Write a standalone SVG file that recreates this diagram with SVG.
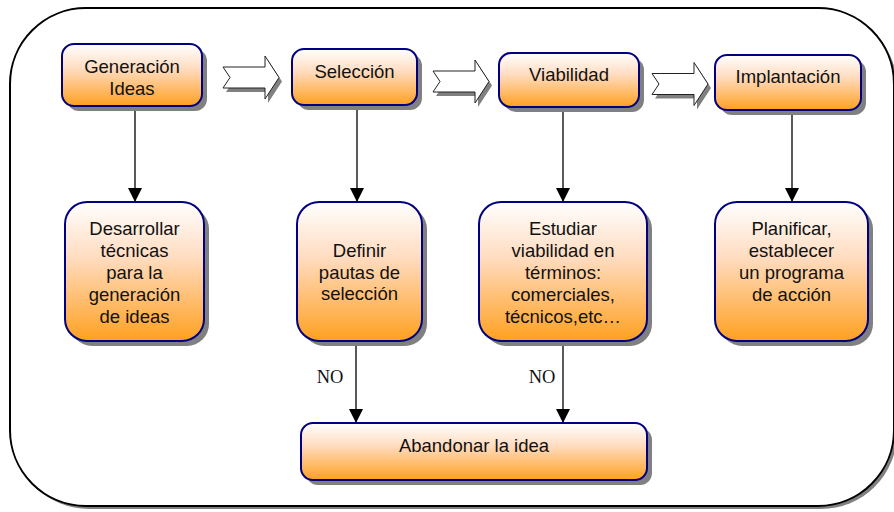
<svg xmlns="http://www.w3.org/2000/svg" width="894" height="512" viewBox="0 0 894 512">
<defs>
<linearGradient id="og" x1="0" y1="0" x2="0" y2="1">
<stop offset="0" stop-color="#ffffff"/>
<stop offset="0.4" stop-color="#ffdcc0"/>
<stop offset="1" stop-color="#ffa020"/>
</linearGradient>
<marker id="ah" markerWidth="14" markerHeight="14" viewBox="0 0 14 14" refX="14" refY="7" orient="auto" markerUnits="userSpaceOnUse">
<path d="M0,0 L14,7 L0,14 Z" fill="#000"/>
</marker>
<path id="blk" d="M0,-10.5 H42 V-21.5 L56,0 L42,21.5 V10.5 H0 L7,0 Z"/>
<style>
.sh{fill:#808080}
.box{fill:url(#og);stroke:#000080;stroke-width:2}
.t{font-family:"Liberation Sans",Arial,sans-serif;font-size:18.5px;fill:#111;text-anchor:middle}
.no{font-family:"Liberation Serif","Times New Roman",serif;font-size:18.5px;fill:#111;text-anchor:middle}
.c{stroke:#000;stroke-width:1.3;fill:none}
.ba{fill:#fff;stroke:#222;stroke-width:1}
</style>
</defs>
<rect width="894" height="512" fill="#fff"/>
<g id="frame">
<rect x="13" y="11" width="884" height="498" rx="76" ry="76" fill="#808080"/>
<rect x="10" y="8" width="884" height="498" rx="76" ry="76" fill="#fff" stroke="#000" stroke-width="2"/>
</g>
<g id="blockarrows">
<use href="#blk" x="226" y="81.5" class="sh"/>
<use href="#blk" x="223" y="77.5" class="ba"/>
<use href="#blk" x="436" y="85.5" class="sh"/>
<use href="#blk" x="433" y="81.5" class="ba"/>
<use href="#blk" x="655" y="88" class="sh"/>
<use href="#blk" x="652" y="84" class="ba"/>
</g>
<g id="connectors">
<line class="c" x1="135" y1="106" x2="135" y2="202" marker-end="url(#ah)"/>
<line class="c" x1="357" y1="106" x2="357" y2="202" marker-end="url(#ah)"/>
<line class="c" x1="563" y1="107" x2="563" y2="202" marker-end="url(#ah)"/>
<line class="c" x1="792" y1="110" x2="792" y2="202" marker-end="url(#ah)"/>
<line class="c" x1="356" y1="341" x2="356" y2="423" marker-end="url(#ah)"/>
<line class="c" x1="563" y1="341" x2="563" y2="423" marker-end="url(#ah)"/>
<text class="no" x="330" y="383">NO</text>
<text class="no" x="542" y="383">NO</text>
</g>
<g id="n-generacion">
<rect class="sh" x="67" y="49" width="140" height="62" rx="12"/>
<rect class="box" x="62" y="44" width="140" height="62" rx="12"/>
<text class="t" x="132" y="73">Generación</text>
<text class="t" x="132" y="95">Ideas</text>
</g>
<g id="n-seleccion">
<rect class="sh" x="297" y="54" width="125" height="56" rx="12"/>
<rect class="box" x="292" y="49" width="125" height="56" rx="12"/>
<text class="t" x="354.5" y="78">Selección</text>
</g>
<g id="n-viabilidad">
<rect class="sh" x="504" y="58" width="140" height="54" rx="12"/>
<rect class="box" x="499" y="53" width="140" height="54" rx="12"/>
<text class="t" x="569" y="81">Viabilidad</text>
</g>
<g id="n-implantacion">
<rect class="sh" x="720" y="60" width="146" height="55" rx="12"/>
<rect class="box" x="715" y="55" width="146" height="55" rx="12"/>
<text class="t" x="788" y="83">Implantación</text>
</g>
<g id="n-desarrollar">
<rect class="sh" x="70" y="207" width="139" height="139" rx="22"/>
<rect class="box" x="65" y="202" width="139" height="139" rx="22"/>
<text class="t" x="134.5" y="235">Desarrollar</text>
<text class="t" x="134.5" y="257">técnicas</text>
<text class="t" x="134.5" y="279">para la</text>
<text class="t" x="134.5" y="301">generación</text>
<text class="t" x="134.5" y="323">de ideas</text>
</g>
<g id="n-definir">
<rect class="sh" x="302" y="207" width="125" height="139" rx="22"/>
<rect class="box" x="297" y="202" width="125" height="139" rx="22"/>
<text class="t" x="359.5" y="257">Definir</text>
<text class="t" x="359.5" y="279">pautas de</text>
<text class="t" x="359.5" y="300">selección</text>
</g>
<g id="n-estudiar">
<rect class="sh" x="484" y="207" width="168" height="139" rx="22"/>
<rect class="box" x="479" y="202" width="168" height="139" rx="22"/>
<text class="t" x="563" y="235">Estudiar</text>
<text class="t" x="563" y="257">viabilidad en</text>
<text class="t" x="563" y="279">términos:</text>
<text class="t" x="563" y="301">comerciales,</text>
<text class="t" x="563" y="323">técnicos,etc…</text>
</g>
<g id="n-planificar">
<rect class="sh" x="720" y="207" width="153" height="139" rx="22"/>
<rect class="box" x="715" y="202" width="153" height="139" rx="22"/>
<text class="t" x="791.5" y="235">Planificar,</text>
<text class="t" x="791.5" y="257">establecer</text>
<text class="t" x="791.5" y="279">un programa</text>
<text class="t" x="791.5" y="301">de acción</text>
</g>
<g id="n-abandonar">
<rect class="sh" x="306" y="428" width="346" height="57" rx="12"/>
<rect class="box" x="301" y="423" width="346" height="57" rx="12"/>
<text class="t" x="474" y="452">Abandonar la idea</text>
</g>
</svg>
